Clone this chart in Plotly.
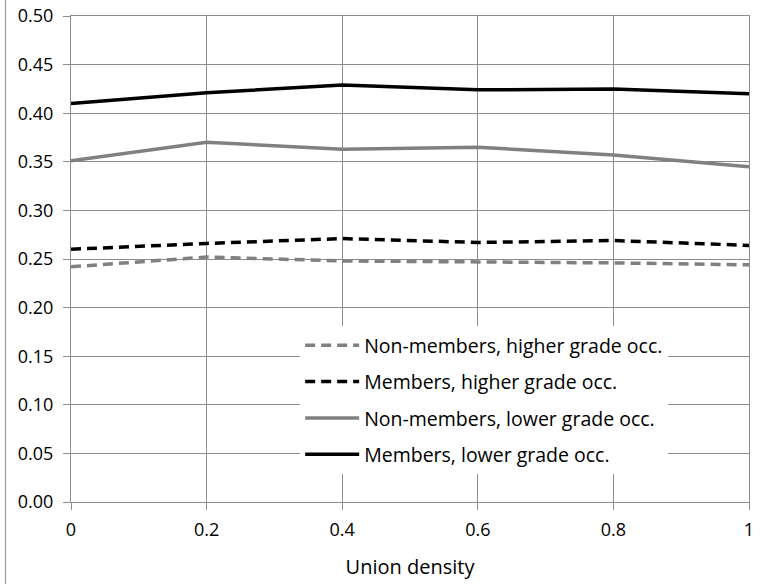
import plotly.graph_objects as go

density = [0, 0.2, 0.4, 0.6, 0.8, 1]
x_tick_labels = ["0", "0.2", "0.4", "0.6", "0.8", "1"]
y_tick_vals = [0, 0.05, 0.10, 0.15, 0.20, 0.25, 0.30, 0.35, 0.40, 0.45, 0.50]

nonmem_higher = [0.242, 0.252, 0.248, 0.247, 0.246, 0.244]
mem_higher = [0.260, 0.266, 0.271, 0.267, 0.269, 0.264]
nonmem_lower = [0.351, 0.370, 0.363, 0.365, 0.357, 0.345]
mem_lower = [0.410, 0.421, 0.429, 0.424, 0.425, 0.420]

names = ["Non-members, higher grade occ.", "Members, higher grade occ.",
         "Non-members, lower grade occ.", "Members, lower grade occ."]
series = [nonmem_higher, mem_higher, nonmem_lower, mem_lower]
colors = ["#808080", "#000000", "#808080", "#000000"]
dashes = ["10px,6px", "10px,6px", "solid", "solid"]

FONT = "Open Sans"
GRID = "#8c8c8c"

fig = go.Figure()
for i, (n, s, c, d) in enumerate(zip(names, series, colors, dashes)):
    fig.add_trace(go.Scatter(x=density, y=s, name=n, mode="lines",
                             legendgroup=f"g{i}",
                             line=dict(color=c, width=3.5, dash=d)))

fig.update_layout(
    width=760, height=584,
    margin=dict(l=71, r=11, t=16, b=82),
    paper_bgcolor="white", plot_bgcolor="white",
    font=dict(family=FONT, size=18, color="#000000"),
    legend=dict(x=0.338, y=0.362, xanchor="left", yanchor="top",
                bgcolor="white", borderwidth=0, traceorder="grouped",
                itemwidth=54,
                tracegroupgap=8, font=dict(family=FONT, size=19.5)),
    xaxis=dict(range=[0, 1], tickvals=density, ticktext=x_tick_labels,
               showgrid=True, gridcolor=GRID, gridwidth=1.3,
               showline=True, linecolor=GRID, linewidth=1.3, mirror=True,
               ticks="outside", ticklen=7, tickcolor=GRID, tickwidth=1.3,
               zeroline=False, automargin=False, ticklabelstandoff=4,
               title=dict(text="Union density", standoff=20,
                          font=dict(family=FONT, size=20, color="#000000"))),
    yaxis=dict(range=[0, 0.5], tickvals=y_tick_vals, tickformat=".2f",
               showgrid=True, gridcolor=GRID, gridwidth=1.3,
               showline=True, linecolor=GRID, linewidth=1.3, mirror=True,
               ticks="outside", ticklen=7, tickcolor=GRID, tickwidth=1.3,
               zeroline=False, automargin=False, ticklabelstandoff=6),
    shapes=[dict(type="line", xref="paper", yref="paper",
                 x0=-0.0966, x1=-0.0966, y0=-0.17, y1=1.04,
                 line=dict(color="#a0a0a0", width=1.3))],
)

fig.write_html("out.html", config={"displayModeBar": False},
               post_script="document.body.style.margin='0';document.body.style.overflow='hidden';")
